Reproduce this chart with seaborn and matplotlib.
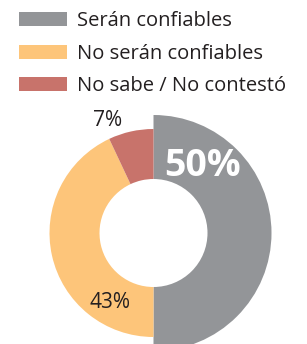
import matplotlib
matplotlib.use("Agg")
import matplotlib.pyplot as plt
import seaborn as sns
from matplotlib.patches import Patch

categories = ["Serán confiables", "No serán confiables", "No sabe / No contestó"]
values = [50, 43, 7]
labels = ["50%", "43%", "7%"]
colors = ["#939598", "#fdc57a", "#c8736b"]

sns.set_theme(style="white")
plt.rcParams["font.family"] = ["Open Sans", "DejaVu Sans"]

W, H = 307, 344
fig = plt.figure(figsize=(W / 100, H / 100), dpi=100)
ax = fig.add_axes([0, 0, 1, 1])


def top(y):
    # pixel position measured from the top of the image
    return H - y


cx, cy = 153.5, top(233)
r_in = 54
# the big slice sticks out further than the other two
radii = [118, 104, 104]
for i in range(len(values)):
    ax.pie(values, colors=[colors[k] if k == i else (0, 0, 0, 0) for k in range(3)],
           startangle=90, counterclock=False, center=(cx, cy), radius=radii[i],
           wedgeprops=dict(width=radii[i] - r_in, linewidth=0), frame=True)
ax.set_xlim(0, W)
ax.set_ylim(0, H)
ax.set_aspect("equal")
ax.axis("off")

ax.text(203, top(166), labels[0], color="white", fontsize=27, fontweight="bold",
        ha="center", va="center")
ax.text(110, top(302), labels[1], color="#231f20", fontsize=15, ha="center", va="center")
ax.text(108, top(121), labels[2], color="#231f20", fontsize=15, ha="center", va="center")

handles = [Patch(facecolor=c, edgecolor="none") for c in colors]
fig.legend(handles, categories, loc="upper left",
           bbox_to_anchor=(19 / W, top(11) / H), borderpad=0, borderaxespad=0,
           frameon=False, fontsize=14.5, handlelength=2.4, handleheight=0.7,
           handletextpad=0.5, labelspacing=0.63, labelcolor="#231f20")

fig.savefig("out.png", dpi=100)
plt.close(fig)
